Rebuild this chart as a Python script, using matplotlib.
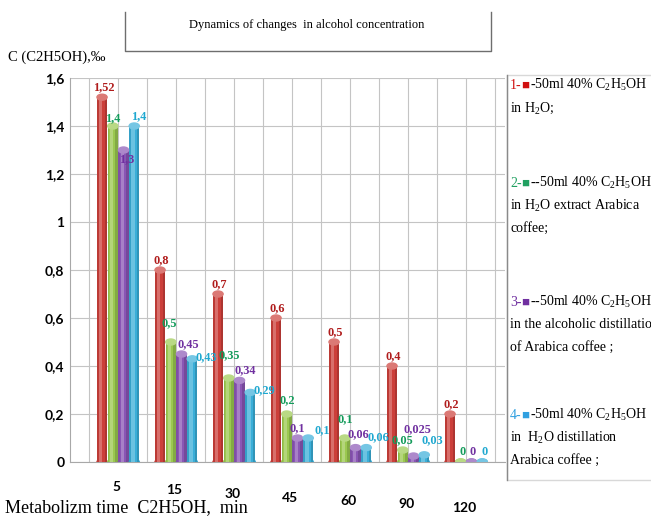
import numpy as np
import matplotlib
matplotlib.use("Agg")
import matplotlib.pyplot as plt
from matplotlib.patches import Ellipse
from matplotlib.lines import Line2D
from matplotlib.ticker import FuncFormatter

plt.rcParams['mathtext.fontset'] = 'custom'
plt.rcParams['mathtext.rm'] = 'Liberation Serif'
plt.rcParams['mathtext.it'] = 'Liberation Serif:italic'
plt.rcParams['mathtext.bf'] = 'Liberation Serif:bold'

# metabolism time, min
times = ['5', '15', '30', '45', '60', '90', '120']

# C2H5OH concentration, permille
water = [1.52, 0.8, 0.7, 0.6, 0.5, 0.4, 0.2]
extract = [1.4, 0.5, 0.35, 0.2, 0.1, 0.05, 0.0]
alc_distill = [1.3, 0.45, 0.34, 0.1, 0.06, 0.025, 0.0]
water_distill = [1.4, 0.43, 0.29, 0.1, 0.06, 0.03, 0.0]

series = [water, extract, alc_distill, water_distill]
bar_colors = ['#cc3f3a', '#9bc850', '#8a56b5', '#3aaed8']
label_colors = ['#b01c1c', '#139b5a', '#7030a0', '#1fa8d0']
key_colors = ['#d01010', '#20a060', '#7030a0', '#30a0e0']

# label nudges in points (dx, dy) so neighbouring values stay readable
nudge = [
    [(0, 0)] * 7,
    [(-1, -2), (-2, 6), (-1, 9), (-1, 3), (-1, 6), (-1, 0), (0, 0)],
    [(1, -14), (4, 0), (3, 0), (-1, 0), (1, 2), (2, 12), (0, 0)],
    [(2, 0), (9, -6), (9, -6), (9, -2), (8, 0), (5, 3), (1, 0)],
]

legend_heads = ['-50ml 40% C$_2$H$_5$OH', '--50ml 40% C$_2$H$_5$OH',
                '--50ml 40% C$_2$H$_5$OH', '-50ml 40% C$_2$H$_5$OH']
legend_rest = [['in H$_2$O;'],
               ['in H$_2$O extract Arabica', 'coffee;'],
               ['in the alcoholic distillation', 'of Arabica coffee ;'],
               ['in  H$_2$O distillation', 'Arabica coffee ;']]

serif = ['Liberation Serif', 'DejaVu Serif']
narrow = ['Liberation Sans Narrow', 'Lato', 'DejaVu Sans']


def comma(v):
    s = ('%g' % round(v, 3))
    return s.replace('.', ',')


def lighten(c, f):
    rgb = np.array(matplotlib.colors.to_rgb(c))
    return tuple(rgb + (1 - rgb) * f)


W, H = 651, 522
fig = plt.figure(figsize=(W / 100, H / 100), dpi=100)
ax = fig.add_axes([70 / W, 1 - 462 / H, 435 / W, 384 / H])

x = np.arange(len(times))
bw = 0.175
pitch = 0.185
cap_h = 0.025

for k, vals in enumerate(series):
    xs = x + (k - 1.5) * pitch
    c = bar_colors[k]
    ax.bar(xs, vals, width=bw, color=c, zorder=3, linewidth=0)
    # cylinder shading: light strip left of centre, darker edges
    ax.bar(xs - bw * 0.12, vals, width=bw * 0.3, color='white', alpha=0.25,
           zorder=4, linewidth=0)
    ax.bar(xs + bw * 0.38, vals, width=bw * 0.24, color='black', alpha=0.15,
           zorder=4, linewidth=0)
    ax.bar(xs - bw * 0.42, vals, width=bw * 0.16, color='black', alpha=0.08,
           zorder=4, linewidth=0)
    for i, (xi, v) in enumerate(zip(xs, vals)):
        ax.add_patch(Ellipse((xi, 0), bw, cap_h, color=c, zorder=3))
        ax.add_patch(Ellipse((xi, v), bw, cap_h, color=lighten(c, 0.3),
                             zorder=5))
        dx, dy = nudge[k][i]
        ax.annotate(comma(v), xy=(xi, v), xytext=(1 + dx, 3 + dy),
                    textcoords='offset points', ha='center', va='bottom',
                    color=label_colors[k], fontsize=8.8, fontweight='bold',
                    family=serif, zorder=6)

ax.set_xlim(-0.83, 6.67)
ax.set_ylim(0, 1.6)
ax.set_yticks(np.arange(0, 1.61, 0.2))
ax.yaxis.set_major_formatter(FuncFormatter(lambda v, p: comma(v)))
ax.set_xticks([])
ax.set_xticks(np.arange(-0.5, 6.6, 0.5), minor=True)
ax.tick_params(axis='x', which='both', length=0)
ax.tick_params(axis='y', length=0, pad=4)
for lbl in ax.get_yticklabels():
    lbl.set_family(narrow)
    lbl.set_fontweight('bold')
    lbl.set_fontsize(10)
ax.grid(axis='y', which='major', color='#c4c4c4', lw=0.8, zorder=0)
ax.grid(axis='x', which='minor', color='#c4c4c4', lw=0.8, zorder=0)
for side in ['top', 'right']:
    ax.spines[side].set_visible(False)
for side in ['left', 'bottom']:
    ax.spines[side].set_color('#a8a8a8')

# category labels step down to the right like the floor of the chart
for i, t in enumerate(times):
    ax.annotate(t, xy=(i, 0), xycoords=('data', 'axes fraction'),
                xytext=(-2, -25 - i * 3.5), textcoords='offset pixels',
                ha='center', va='center', fontsize=10, fontweight='bold',
                family=narrow, annotation_clip=False)

fig.text(5 / W, 1 - 508 / H, 'Metabolizm time  C2H5OH,  min', fontsize=13,
         family=serif, ha='left', va='center')
fig.text(8 / W, 1 - 57 / H, 'C (C2H5OH),‰', fontsize=10.5, family=serif,
         ha='left', va='center')

# title frame
gray = '#6e6e6e'
fig.add_artist(Line2D([125 / W, 125 / W, 491 / W, 491 / W],
                      [1 - 12 / H, 1 - 51 / H, 1 - 51 / H, 1 - 12 / H],
                      color=gray, lw=1))
fig.text(307 / W, 1 - 25 / H, 'Dynamics of changes  in alcohol concentration',
         fontsize=9, family=serif, ha='center', va='center')

# legend frame
fig.add_artist(Line2D([651 / W, 507 / W, 507 / W, 651 / W],
                      [1 - 75 / H, 1 - 75 / H, 1 - 480 / H, 1 - 480 / H],
                      color='#d8d8d8', lw=1))
fig.add_artist(Line2D([507 / W, 507 / W], [1 - 75 / H, 1 - 480 / H],
                      color='#8a8a8a', lw=1))

first_lines = [89, 187, 306, 419]
step = 22.5
for k in range(4):
    yb = H - first_lines[k]
    t1 = fig.text(510 / W, yb / H, '%d-' % (k + 1), fontsize=10, family=serif,
                  color=key_colors[k], va='baseline', ha='left')
    t2 = plt.annotate('■', xy=(1, yb + 0.5), xycoords=(t1, 'figure pixels'),
                      fontsize=9.5, family=['Liberation Serif', 'DejaVu Sans'],
                      color=key_colors[k], va='baseline', ha='left')
    plt.annotate(legend_heads[k], xy=(1, yb), xycoords=(t2, 'figure pixels'),
                 fontsize=10, family=serif, va='baseline', ha='left')
    for j, line in enumerate(legend_rest[k]):
        fig.text(510 / W, (yb - (j + 1) * step) / H, line, fontsize=10,
                 family=serif, va='baseline', ha='left')

fig.savefig('out.png', dpi=100)
